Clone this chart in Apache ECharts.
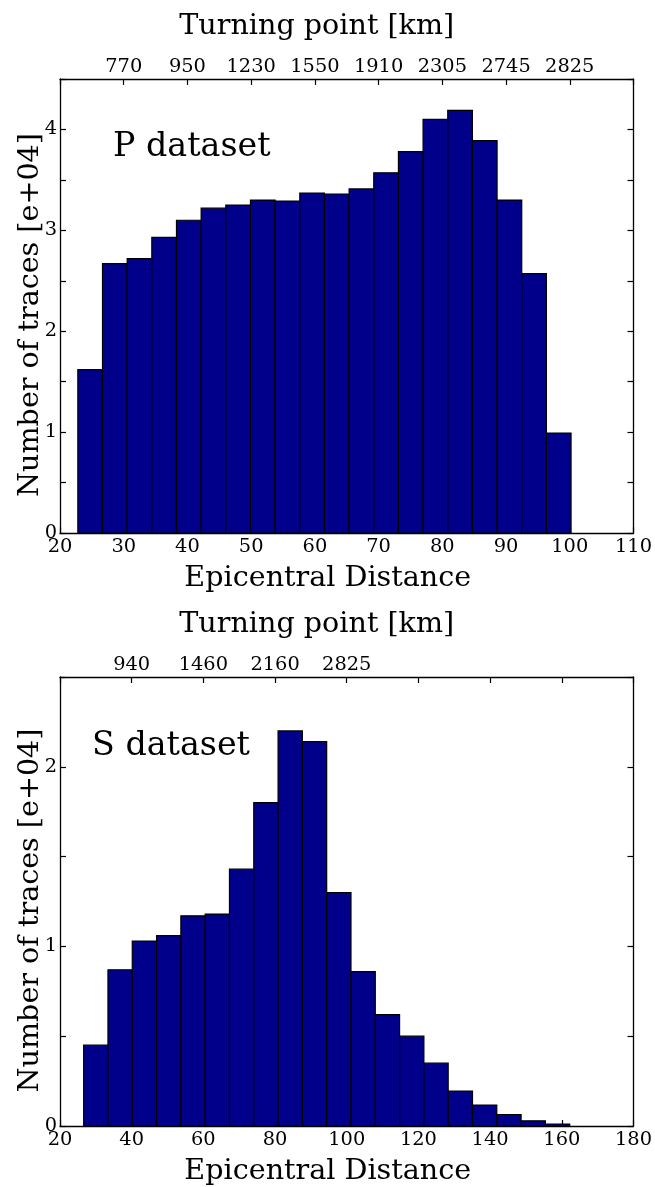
<!DOCTYPE html>
<html>
<head>
<meta charset="utf-8">
<script src="https://cdn.jsdelivr.net/npm/echarts@6/dist/echarts.min.js"></script>
<style>
html,body{margin:0;padding:0;background:#fff;}
#chart{width:655px;height:1187px;}
</style>
</head>
<body>
<div id="chart"></div>
<script>
// ---- data ----
// P dataset histogram (counts in units of 1e4), 20 bins
var P_BIN_RANGE = [22.8, 100.2];
var P_COUNTS = [1.62, 2.67, 2.72, 2.93, 3.10, 3.22, 3.25, 3.30, 3.29, 3.37,
                3.36, 3.41, 3.57, 3.78, 4.10, 4.19, 3.89, 3.30, 2.57, 0.99];
// S dataset histogram (counts in units of 1e4), 20 bins
var S_BIN_RANGE = [26.6, 162.2];
var S_COUNTS = [0.45, 0.87, 1.03, 1.06, 1.17, 1.18, 1.43, 1.80, 2.20, 2.14,
                1.30, 0.86, 0.62, 0.50, 0.35, 0.195, 0.117, 0.064, 0.029, 0.011];
// top-axis (turning point) tick labels keyed by epicentral distance
var P_TOP_TICKS = [30, 40, 50, 60, 70, 80, 90, 100];
var P_TOP_LABELS = ['770', '950', '1230', '1550', '1910', '2305', '2745', '2825'];
var S_TOP_TICKS = [40, 60, 80, 100];
var S_TOP_LABELS = ['940', '1460', '2160', '2825'];

var X_TITLE = 'Epicentral Distance';
var TOP_TITLE = 'Turning point [km]';
var Y_TITLE = 'Number of traces [e+04]';

function histData(range, counts) {
  var n = counts.length, w = (range[1] - range[0]) / n, out = [];
  for (var i = 0; i < n; i++) {
    out.push([range[0] + i * w, range[0] + (i + 1) * w, counts[i]]);
  }
  return out;
}

var FONT = 'DejaVu Serif';
var TICK_SIZE = 19.4, TITLE_SIZE = 28.6, ANN_SIZE = 33.3;
var BAR_COLOR = '#00008B';

function renderBar(params, api) {
  var p0 = api.coord([api.value(0), api.value(2)]);
  var p1 = api.coord([api.value(1), 0]);
  return {
    type: 'rect',
    shape: { x: p0[0], y: p0[1], width: p1[0] - p0[0], height: p1[1] - p0[1] },
    style: { fill: BAR_COLOR, stroke: '#000', lineWidth: 1.2 }
  };
}

var lineStyle = { color: '#000', width: 1.3 };
var tickStyle = { show: true, inside: true, length: 6, lineStyle: { color: '#000', width: 1.2 } };

function bottomX(grid, min, max, interval) {
  return {
    type: 'value', gridIndex: grid, position: 'bottom', min: min, max: max, interval: interval,
    axisLine: { show: true, lineStyle: lineStyle, onZero: false },
    axisTick: tickStyle, splitLine: { show: false },
    axisLabel: { fontFamily: FONT, fontSize: TICK_SIZE, color: '#000', margin: 4 },
    name: X_TITLE, nameLocation: 'middle', nameGap: 31,
    nameTextStyle: { fontFamily: FONT, fontSize: TITLE_SIZE, color: '#000', padding: [0, 38, 0, 0] }
  };
}
function topX(grid, min, max, interval, ticks, labels) {
  return {
    type: 'value', gridIndex: grid, position: 'top', min: min, max: max, interval: interval,
    axisLine: { show: true, lineStyle: lineStyle, onZero: false },
    axisTick: tickStyle, splitLine: { show: false },
    axisLabel: {
      fontFamily: FONT, fontSize: TICK_SIZE, color: '#000', margin: 3,
      formatter: function (v) {
        var i = ticks.indexOf(Math.round(v));
        return i >= 0 ? labels[i] : '';
      }
    },
    name: TOP_TITLE, nameLocation: 'middle', nameGap: 38,
    nameTextStyle: { fontFamily: FONT, fontSize: TITLE_SIZE, color: '#000', padding: [0, 60, 0, 0] }
  };
}
function leftY(grid, max) {
  return {
    type: 'value', gridIndex: grid, position: 'left', min: 0, max: max, interval: 0.5,
    axisLine: { show: true, lineStyle: lineStyle, onZero: false },
    axisTick: tickStyle, splitLine: { show: false },
    axisLabel: {
      fontFamily: FONT, fontSize: TICK_SIZE, color: '#000', margin: 3,
      formatter: function (v) { return Math.abs(v - Math.round(v)) < 1e-6 ? String(Math.round(v)) : ''; }
    },
    name: Y_TITLE, nameLocation: 'middle', nameGap: 15, nameRotate: 90, nameMoveOverlap: false,
    nameTextStyle: { fontFamily: FONT, fontSize: TITLE_SIZE, color: '#000', padding: [0, 18, 0, 0] }
  };
}
function rightY(grid, max) {
  return {
    type: 'value', gridIndex: grid, position: 'right', min: 0, max: max, interval: 0.5,
    axisLine: { show: true, lineStyle: lineStyle, onZero: false },
    axisTick: tickStyle, splitLine: { show: false },
    axisLabel: { show: false }
  };
}

var chart = echarts.init(document.getElementById('chart'), null, { renderer: 'canvas' });
chart.setOption({
  backgroundColor: '#fff',
  animation: false,
  grid: [
    { left: 60, top: 79, width: 579, height: 454 },
    { left: 60, top: 677, width: 579, height: 455 }
  ],
  xAxis: [
    bottomX(0, 20, 110, 10),
    topX(0, 20, 110, 10, P_TOP_TICKS, P_TOP_LABELS),
    bottomX(1, 20, 180, 20),
    topX(1, 20, 180, 20, S_TOP_TICKS, S_TOP_LABELS)
  ],
  yAxis: [
    leftY(0, 4.5), rightY(0, 4.5),
    leftY(1, 2.5), rightY(1, 2.5)
  ],
  series: [
    {
      type: 'custom', name: 'P dataset', xAxisIndex: 0, yAxisIndex: 0,
      renderItem: renderBar, encode: { x: [0, 1], y: 2 },
      data: histData(P_BIN_RANGE, P_COUNTS), clip: true
    },
    {
      type: 'custom', name: 'S dataset', xAxisIndex: 2, yAxisIndex: 2,
      renderItem: renderBar, encode: { x: [0, 1], y: 2 },
      data: histData(S_BIN_RANGE, S_COUNTS), clip: true
    }
  ],
  graphic: [
    { type: 'text', left: 113, top: 131, style: { text: 'P dataset', fontFamily: FONT, fontSize: ANN_SIZE, fill: '#000' } },
    { type: 'text', left: 92, top: 730, style: { text: 'S dataset', fontFamily: FONT, fontSize: ANN_SIZE, fill: '#000' } }
  ]
});
</script>
</body>
</html>
